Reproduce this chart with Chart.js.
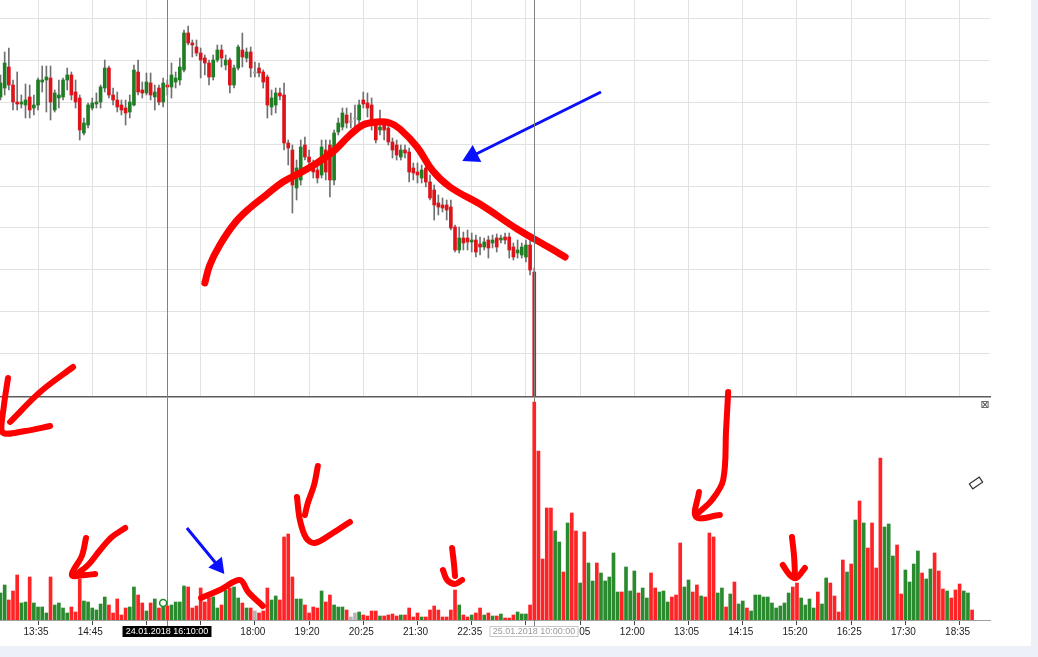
<!DOCTYPE html>
<html>
<head>
<meta charset="utf-8">
<script src="https://cdn.jsdelivr.net/npm/chart.js@4.4.1/dist/chart.umd.min.js"></script>
<style>
  body { margin: 0; background: #edf1f7; }
  #wrap { position: relative; width: 1038px; height: 657px; }
  #sheet { position: absolute; left: 0; top: 0; width: 1031px; height: 646px; background: #fff; }
  canvas { position: absolute; left: 0; top: 0; }
</style>
</head>
<body>
<div id="wrap">
  <div id="sheet"></div>
  <canvas id="priceChart" width="1038" height="657"></canvas>
  <canvas id="volumeChart" width="1038" height="657"></canvas>
</div>
<script>
// 5-minute bars, x = bar index
const tickIdx = [9, 22, 35, 48, 61, 74, 87, 100, 113, 126, 139, 152, 165, 178, 191, 204, 217, 230];
const tickLabels = ['13:35', '14:45', '15:50', '16:55', '18:00', '19:20', '20:25', '21:30', '22:35',
                    '23:40', '11:05', '12:00', '13:05', '14:15', '15:20', '16:25', '17:30', '18:35'];
const crossIdx = [40, 128];
const crossLabels = ['24.01.2018 16:10:00', '25.01.2018 10:00:00'];
const priceGrid = [4.18, 8.36, 12.54, 16.72, 20.9, 25.08, 29.26, 33.44, 37.62];

const candleOpen = [
  29.8, 30.7, 32.8, 31.0, 29.3, 29.1, 29.0, 29.8, 28.7, 29.0,
  31.3, 31.5, 31.7, 28.5, 29.7, 29.8, 31.5, 32.0, 30.3, 29.7,
  26.2, 27.0, 28.7, 29.1, 29.3, 30.7, 32.7, 30.0, 29.5, 29.0,
  28.7, 28.3, 29.0, 32.3, 30.5, 30.2, 31.2, 29.8, 30.7, 29.3,
  31.0, 30.8, 31.3, 31.5, 32.5, 36.2, 35.2, 34.8, 34.2, 33.7,
  33.2, 31.8, 33.5, 34.5, 33.0, 33.5, 31.0, 32.7, 34.5, 33.7,
  34.3, 32.3, 32.7, 32.3, 31.8, 28.8, 29.0, 30.2, 30.0, 25.2,
  24.5, 20.7, 21.5, 25.0, 23.8, 23.0, 22.5, 22.0, 24.5, 25.0,
  21.5, 26.3, 26.8, 28.0, 27.4, 27.7, 27.5, 29.5, 29.2, 29.0,
  27.0, 26.5, 27.0, 26.7, 25.3, 25.0, 23.8, 24.5, 24.3, 22.7,
  22.3, 21.7, 22.7, 21.3, 20.5, 19.2, 19.0, 19.0, 18.8, 16.8,
  14.5, 15.7, 15.7, 15.3, 15.5, 15.1, 14.8, 15.5, 15.2, 15.7,
  15.5, 15.8, 15.8, 14.8, 14.2, 14.0, 13.8, 15.0, 12.3
];
const candleHigh = [
  32.0, 34.3, 34.7, 31.5, 32.3, 30.0, 31.1, 31.0, 30.0, 31.7,
  32.9, 32.9, 32.9, 30.5, 31.5, 31.7, 32.7, 32.3, 31.5, 30.0,
  27.7, 29.2, 29.7, 30.2, 31.0, 33.5, 32.9, 30.7, 30.3, 29.5,
  29.5, 30.0, 33.0, 33.5, 31.3, 32.2, 32.2, 31.0, 31.0, 31.7,
  31.5, 33.2, 32.3, 33.7, 36.5, 36.9, 35.5, 35.5, 34.7, 34.0,
  33.5, 34.0, 35.0, 35.0, 34.0, 33.7, 33.0, 35.0, 36.2, 34.7,
  34.8, 33.3, 33.2, 32.5, 32.0, 30.5, 30.7, 30.7, 31.2, 25.5,
  25.0, 23.5, 25.5, 25.8, 24.5, 23.5, 23.5, 25.5, 25.5, 25.5,
  26.5, 27.7, 28.7, 28.7, 28.2, 29.0, 29.5, 30.3, 30.2, 29.7,
  27.5, 28.5, 27.5, 27.0, 25.7, 25.5, 25.0, 25.0, 24.7, 23.2,
  23.2, 23.0, 23.5, 22.0, 21.0, 20.0, 19.7, 19.5, 19.5, 17.0,
  16.8, 16.3, 16.5, 16.2, 16.0, 15.8, 15.7, 15.9, 16.0, 16.1,
  16.0, 16.2, 16.2, 15.2, 15.5, 15.2, 15.5, 15.5, 12.7
];
const candleLow = [
  29.5, 30.0, 30.5, 28.5, 28.5, 28.7, 27.7, 27.7, 28.0, 28.5,
  30.3, 28.3, 27.5, 28.3, 28.7, 29.5, 30.5, 29.5, 28.7, 25.5,
  26.0, 26.7, 28.5, 28.7, 28.7, 30.3, 29.7, 29.0, 28.3, 28.0,
  27.0, 27.7, 28.9, 30.0, 29.7, 30.0, 29.5, 28.5, 29.0, 28.8,
  30.0, 29.7, 30.7, 31.0, 32.3, 35.0, 33.8, 33.9, 31.7, 32.0,
  31.0, 31.5, 33.3, 32.8, 32.5, 30.2, 30.7, 32.5, 32.8, 33.3,
  31.8, 31.8, 31.8, 30.7, 27.7, 28.0, 28.2, 29.5, 24.5, 23.0,
  18.2, 19.5, 21.0, 23.5, 22.7, 21.7, 21.2, 21.7, 21.5, 19.8,
  21.0, 26.0, 26.5, 26.7, 26.7, 26.7, 26.5, 28.7, 27.8, 26.5,
  25.2, 26.0, 25.5, 25.0, 23.7, 23.5, 23.5, 23.7, 21.3, 21.5,
  21.2, 21.2, 20.8, 19.5, 17.5, 18.0, 18.3, 17.5, 16.5, 14.3,
  14.2, 14.5, 14.5, 14.3, 13.8, 14.0, 14.5, 13.7, 14.7, 14.3,
  15.2, 15.1, 13.7, 13.5, 13.7, 13.7, 13.3, 12.0, -3.5
];
const candleClose = [
  31.2, 33.2, 31.0, 29.3, 29.1, 29.3, 29.5, 28.5, 29.0, 31.5,
  31.5, 31.8, 29.3, 30.2, 30.0, 31.5, 32.0, 30.0, 29.3, 26.5,
  27.2, 29.0, 29.2, 29.3, 30.8, 32.7, 30.0, 29.5, 28.8, 28.5,
  28.2, 29.3, 32.5, 30.3, 30.2, 31.3, 30.0, 30.3, 29.3, 31.2,
  30.8, 32.0, 31.7, 32.8, 36.2, 35.2, 35.0, 34.2, 33.5, 33.2,
  31.8, 33.5, 34.5, 33.7, 33.5, 31.0, 32.7, 34.8, 33.8, 34.3,
  32.7, 32.3, 32.2, 31.3, 29.0, 29.7, 30.2, 29.9, 25.2, 24.7,
  21.0, 22.7, 24.8, 23.8, 23.3, 22.3, 21.7, 24.8, 22.3, 21.5,
  26.2, 27.2, 28.2, 27.2, 27.4, 27.7, 29.0, 29.1, 28.7, 27.0,
  25.5, 26.8, 26.5, 25.3, 24.5, 24.0, 24.5, 24.2, 22.3, 22.2,
  22.0, 22.5, 21.3, 19.7, 19.0, 18.8, 18.7, 18.5, 16.7, 14.5,
  15.7, 15.2, 15.3, 15.5, 14.3, 14.8, 15.3, 14.7, 15.5, 14.8,
  15.7, 15.5, 14.5, 13.8, 14.5, 14.8, 15.0, 12.5, -2.5
];

const volume = [
  27, 35, 20, 29, 45, 17, 18, 43, 17, 13,
  13, 7, 43, 15, 17, 12, 7, 13, 8, 41,
  19, 18, 12, 10, 16, 23, 15, 7, 21, 5,
  12, 13, 33, 25, 17, 9, 17, 21, 12, 15,
  14, 15, 18, 18, 34, 33, 12, 14, 32, 18,
  22, 23, 12, 15, 30, 32, 33, 22, 17, 12,
  12, 9, 7, 9, 32, 20, 24, 20, 83, 86,
  43, 21, 21, 15, 7, 13, 12, 29, 18, 25,
  15, 13, 13, 10, 3, 7, 8, 5, 4, 9,
  9, 4, 4, 5, 6, 4, 5, 5, 12, 3,
  7, 3, 3, 10, 14, 10, 3, 3, 10, 30,
  15, 5, 3, 5, 7, 12, 5, 7, 4, 4,
  6, 2, 2, 5, 8, 6, 6, 15, 218, 169,
  61, 112, 112, 89, 78, 48, 97, 107, 89, 37,
  88, 57, 39, 57, 47, 39, 43, 67, 28, 28,
  53, 29, 49, 27, 32, 22, 47, 32, 28, 29,
  18, 23, 25, 77, 33, 40, 28, 35, 24, 23,
  87, 83, 27, 32, 13, 26, 38, 16, 19, 12,
  9, 25, 25, 23, 23, 17, 12, 14, 17, 27,
  33, 37, 22, 15, 21, 12, 28, 16, 42, 37,
  24, 8, 60, 48, 56, 100, 119, 97, 72, 97,
  52, 162, 93, 96, 64, 75, 26, 50, 38, 56,
  69, 47, 41, 51, 67, 49, 31, 29, 22, 30,
  36, 29, 27, 10
];
// G = up bar, R = down bar, N = unchanged
const volumeSide =
  'GGRRRGGRGG' + 'GGRGGGGRRR' + 'GGGGGGRRRR' + 'RGGRRGRGRG' + 'RGGGGRRRRR' +
  'RGGRGRGGRG' + 'RNRRRGGRRR' + 'RGGRRRRGRR' + 'GGGRNNGRRR' + 'RGRRRRGRRR' +
  'RGRRRRRRRR' + 'GRRGRRGRGR' + 'GRRRGGGRRR' + 'RRRGGRGRRG' + 'RGGRGGGGGR' +
  'GGGRGGRRGG' + 'GRRRGGRRGR' + 'RRGGRGRGGR' + 'GGGGGGGGGG' + 'RRGGGGRGGR' +
  'RRRGRGRGRR' + 'RRGGGRRGGG' + 'GRGGRRRGRR' + 'RGGR';

// hand-drawn marks, [bar index, price] and [bar index, volume]
const trendCurve = [[49.0, 11.2], [50.2, 13.0], [52.6, 15.0], [56.2, 17.2], [59.8, 18.7], [63.4, 19.9],
  [67.7, 21.3], [71.8, 22.2], [75.9, 23.2], [80.2, 24.5], [83.8, 26.0], [86.9, 27.0], [90.3, 27.3],
  [93.4, 27.2], [95.8, 26.6], [99.9, 24.8], [103.7, 22.4], [107.8, 20.8], [115.7, 18.9],
  [123.9, 16.6], [131.8, 14.7], [135.4, 13.8]];
const blueArrowTop = [[144.0, 30.3], [113.1, 23.9]];
const blueArrowBottom = [[44.7, 92], [52.2, 54]];
const volumeMarks = [
  [[17.4, 253], [9.5, 228], [2.3, 198]],
  [[1.8, 242], [0.84, 215], [0.36, 188], [5.9, 189], [11.9, 194]],
  [[29.9, 92], [26.7, 83], [23.9, 70], [21.0, 55], [18.3, 46]],
  [[20.5, 82], [19.5, 64], [17.1, 45], [20.3, 45], [22.7, 46]],
  [[76.1, 154], [75.2, 135], [73.7, 117], [73.0, 105]],
  [[71.1, 123], [71.8, 100], [73.3, 82], [75.4, 77], [79.7, 87], [83.8, 98]],
  [[108.3, 72], [108.7, 58], [109.0, 44]],
  [[106.1, 50], [107.1, 40], [109.0, 36], [110.7, 40]],
  [[174.5, 228], [174.0, 190], [173.3, 140], [170.6, 120], [167.3, 107]],
  [[167.5, 128], [166.8, 103], [172.5, 105]],
  [[189.8, 83], [190.3, 64], [190.5, 47]],
  [[187.6, 55], [189.3, 45], [190.8, 42], [192.9, 52]],
  [[48.1, 22], [52.6, 30], [57.4, 40], [59.4, 28], [62.9, 14]]
];
const cursorMark = [[39.0, 17]];

const X_MIN = -0.12;
const X_MAX = 237.29;
const UP = '#1f7d24', DOWN = '#dc141a', FLAT = '#a0a0a0';
const toXY = pts => pts.map(([x, y]) => ({ x, y }));
const setTicks = values => scale => { scale.ticks = values.map(v => ({ value: v })); };

const priceChart = new Chart(document.getElementById('priceChart'), {
  type: 'bar',
  data: {
    datasets: [
      {
        type: 'line', data: toXY(trendCurve), borderColor: '#ff0000', borderWidth: 7,
        tension: 0.4, pointRadius: 0, borderCapStyle: 'round', borderJoinStyle: 'round',
        clip: false, order: -2
      },
      {
        type: 'line', data: toXY(blueArrowTop), borderColor: '#0a10ff', borderWidth: 3,
        pointRadius: [0, 8], pointStyle: 'triangle', pointRotation: [0, 243],
        pointBackgroundColor: '#0a10ff', pointBorderColor: '#0a10ff', clip: false, order: -2
      },
      {
        data: candleOpen.map((o, i) => ({ x: i, y: [o, candleClose[i]] })),
        backgroundColor: ctx => {
          const d = candleClose[ctx.dataIndex] - candleOpen[ctx.dataIndex];
          return d > 0 ? UP : d < 0 ? DOWN : FLAT;
        },
        barThickness: 3, minBarLength: 1, grouped: false, order: 1
      },
      {
        data: candleLow.map((l, i) => ({ x: i, y: [l, candleHigh[i]] })),
        backgroundColor: '#707070', barThickness: 1, grouped: false, order: 2
      }
    ]
  },
  options: {
    responsive: false, animation: false, devicePixelRatio: 1, events: [],
    layout: { autoPadding: false, padding: { left: 0, right: 48, top: 0, bottom: 260 } },
    plugins: { legend: { display: false }, tooltip: { enabled: false } },
    scales: {
      x: {
        type: 'linear', min: X_MIN, max: X_MAX, offset: false,
        afterBuildTicks: setTicks(tickIdx),
        afterFit: s => { s.height = 0; },
        ticks: { display: false },
        grid: { color: '#e2e2e2', drawTicks: false, offset: false },
        border: { display: true, color: '#5c5c5c', width: 1.5 }
      },
      y: {
        min: -0.2, max: 39.5,
        afterBuildTicks: setTicks(priceGrid),
        afterFit: s => { s.width = 0; },
        ticks: { display: false },
        grid: { color: '#e2e2e2', drawTicks: false },
        border: { display: false }
      }
    }
  }
});

const overlayPlugin = {
  id: 'overlay',
  beforeDatasetsDraw(chart) {
    const { ctx, scales: { x } } = chart;
    ctx.save();
    ctx.strokeStyle = '#808080';
    ctx.lineWidth = 1;
    crossIdx.forEach(idx => {
      const px = Math.round(x.getPixelForValue(idx)) + 0.5;
      ctx.beginPath();
      ctx.moveTo(px, 0);
      ctx.lineTo(px, 627);
      ctx.stroke();
    });
    ctx.restore();
  },
  afterDraw(chart) {
    const { ctx, scales: { x } } = chart;
    ctx.save();
    ctx.font = '9px "Liberation Sans", Arial, sans-serif';
    ctx.textAlign = 'center';
    ctx.textBaseline = 'middle';
    crossIdx.forEach((idx, k) => {
      const px = Math.round(x.getPixelForValue(idx));
      const w = Math.ceil(ctx.measureText(crossLabels[k]).width) + 6;
      if (k === 0) {
        ctx.fillStyle = '#000';
        ctx.fillRect(px - w / 2, 626, w, 11);
        ctx.fillStyle = '#fff';
      } else {
        ctx.fillStyle = '#fff';
        ctx.fillRect(px - w / 2, 626, w, 11);
        ctx.strokeStyle = '#c8c8c8';
        ctx.lineWidth = 1;
        ctx.strokeRect(px - w / 2 + 0.5, 626.5, w - 1, 10);
        ctx.fillStyle = '#9a9a9a';
      }
      ctx.fillText(crossLabels[k], px, 632);
    });
    // panel icons
    ctx.fillStyle = '#444';
    ctx.font = '11px "DejaVu Sans", sans-serif';
    ctx.fillText('\u22A0', 985, 405);
    ctx.translate(976, 483);
    ctx.rotate(-0.6);
    ctx.strokeStyle = '#333';
    ctx.lineWidth = 1.2;
    ctx.strokeRect(-6, -3, 12, 6);
    ctx.restore();
  }
};

const volumeColor = { G: '#2a8b2e', R: '#ff2326', N: '#b3b3b3' };

const volumeChart = new Chart(document.getElementById('volumeChart'), {
  type: 'bar',
  data: {
    datasets: [
      ...volumeMarks.map(stroke => ({
        type: 'line', data: toXY(stroke), borderColor: '#ff0000', borderWidth: 6,
        tension: 0.35, pointRadius: 0, borderCapStyle: 'round', borderJoinStyle: 'round',
        clip: false, order: -2
      })),
      {
        type: 'line', data: toXY(blueArrowBottom), borderColor: '#0a10ff', borderWidth: 3,
        pointRadius: [0, 7], pointStyle: 'triangle', pointRotation: [0, 142],
        pointBackgroundColor: '#0a10ff', pointBorderColor: '#0a10ff', clip: false, order: -2
      },
      {
        type: 'line', data: toXY(cursorMark), showLine: false, pointRadius: 3.5,
        pointBorderWidth: 1.5, pointBorderColor: '#1d8a24', pointBackgroundColor: '#fff', order: -1
      },
      {
        data: volume.map((v, i) => ({ x: i, y: v })),
        backgroundColor: volume.map((v, i) => volumeColor[volumeSide[i]]),
        barThickness: 3, grouped: false, order: 1
      }
    ]
  },
  options: {
    responsive: false, animation: false, devicePixelRatio: 1, events: [],
    layout: { autoPadding: false, padding: { left: 0, right: 48, top: 398, bottom: 0 } },
    plugins: { legend: { display: false }, tooltip: { enabled: false } },
    scales: {
      x: {
        type: 'linear', min: X_MIN, max: X_MAX, offset: false,
        afterBuildTicks: setTicks(tickIdx),
        afterFit: s => { s.height = 37; },
        ticks: {
          autoSkip: false, maxRotation: 0, padding: 1, labelOffset: -2,
          color: '#222', font: { family: '"Liberation Sans", Arial, sans-serif', size: 10 },
          callback: (v, i) => tickLabels[i]
        },
        grid: { drawOnChartArea: false, color: '#444', tickLength: 5, offset: false },
        border: { display: true, color: '#a0a0a0', width: 1 }
      },
      y: { display: false, min: 0, max: 222 }
    }
  },
  plugins: [overlayPlugin]
});
</script>
</body>
</html>
